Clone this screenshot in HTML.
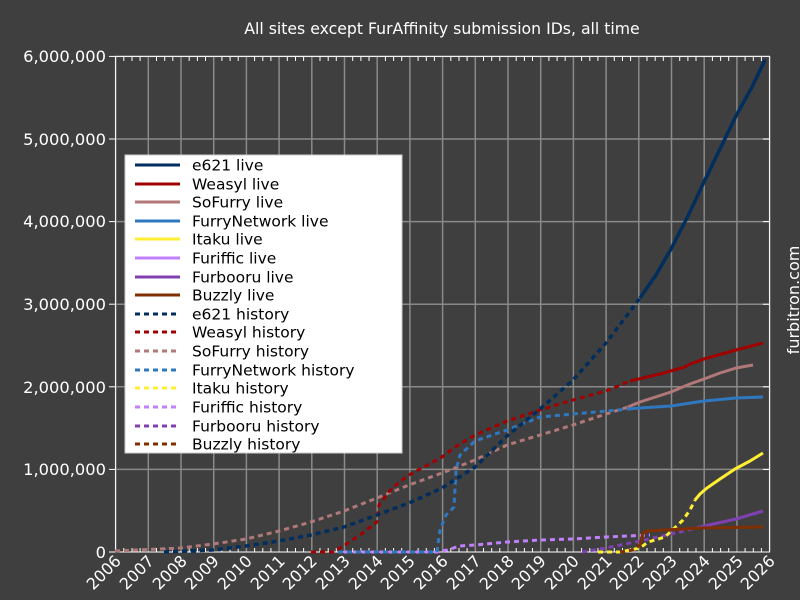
<!DOCTYPE html>
<html><head><meta charset="utf-8"><style>
body{margin:0;background:#3f3f3f}
svg{display:block;font-family:"DejaVu Sans","Liberation Sans",sans-serif}
</style></head><body>
<svg width="800" height="600" viewBox="0 0 800 600">
<rect width="800" height="600" fill="#3f3f3f"/>
<text x="442" y="34" fill="#fff" font-size="15.7" text-anchor="middle">All sites except FurAffinity submission IDs, all time</text>
<text transform="translate(799,300) rotate(-90)" fill="#fff" font-size="16" text-anchor="middle">furbitron.com</text>
<g stroke="#8a8a8a" stroke-width="1.5">
<line x1="115.6" y1="56" x2="115.6" y2="552"/><line x1="148.3" y1="56" x2="148.3" y2="552"/><line x1="181" y1="56" x2="181" y2="552"/><line x1="213.7" y1="56" x2="213.7" y2="552"/><line x1="246.4" y1="56" x2="246.4" y2="552"/><line x1="279.1" y1="56" x2="279.1" y2="552"/><line x1="311.8" y1="56" x2="311.8" y2="552"/><line x1="344.5" y1="56" x2="344.5" y2="552"/><line x1="377.2" y1="56" x2="377.2" y2="552"/><line x1="409.9" y1="56" x2="409.9" y2="552"/><line x1="442.6" y1="56" x2="442.6" y2="552"/><line x1="475.3" y1="56" x2="475.3" y2="552"/><line x1="508" y1="56" x2="508" y2="552"/><line x1="540.7" y1="56" x2="540.7" y2="552"/><line x1="573.4" y1="56" x2="573.4" y2="552"/><line x1="606.1" y1="56" x2="606.1" y2="552"/><line x1="638.8" y1="56" x2="638.8" y2="552"/><line x1="671.5" y1="56" x2="671.5" y2="552"/><line x1="704.2" y1="56" x2="704.2" y2="552"/><line x1="736.9" y1="56" x2="736.9" y2="552"/><line x1="769.6" y1="56" x2="769.6" y2="552"/>
<line x1="115" y1="469.4" x2="770" y2="469.4"/><line x1="115" y1="386.8" x2="770" y2="386.8"/><line x1="115" y1="304.2" x2="770" y2="304.2"/><line x1="115" y1="221.6" x2="770" y2="221.6"/><line x1="115" y1="139" x2="770" y2="139"/><line x1="115" y1="56.4" x2="770" y2="56.4"/>
</g>
<rect x="115.6" y="56.4" width="654" height="495.6" fill="none" stroke="#fff" stroke-width="1"/>
<g id="mt" stroke="#fff" stroke-width="1">
<path d="M123.8 57v4M132 57v4M140.1 57v4M156.5 57v4M164.7 57v4M172.8 57v4M189.2 57v4M197.4 57v4M205.5 57v4M221.9 57v4M230.1 57v4M238.2 57v4M254.6 57v4M262.8 57v4M270.9 57v4M287.3 57v4M295.5 57v4M303.6 57v4M320 57v4M328.2 57v4M336.3 57v4M352.7 57v4M360.9 57v4M369 57v4M385.4 57v4M393.6 57v4M401.7 57v4M418.1 57v4M426.3 57v4M434.4 57v4M450.8 57v4M459 57v4M467.1 57v4M483.5 57v4M491.7 57v4M499.8 57v4M516.2 57v4M524.4 57v4M532.5 57v4M548.9 57v4M557.1 57v4M565.2 57v4M581.6 57v4M589.8 57v4M597.9 57v4M614.3 57v4M622.5 57v4M630.6 57v4M647 57v4M655.2 57v4M663.3 57v4M679.7 57v4M687.9 57v4M696 57v4M712.4 57v4M720.6 57v4M728.7 57v4M745.1 57v4M753.3 57v4M761.4 57v4"/>
</g>
<use href="#mt" transform="translate(0,491)"/>
<g stroke="#fff" stroke-width="1">
<line x1="109" y1="552" x2="115" y2="552"/><line x1="109" y1="469.4" x2="115" y2="469.4"/><line x1="109" y1="386.8" x2="115" y2="386.8"/><line x1="109" y1="304.2" x2="115" y2="304.2"/><line x1="109" y1="221.6" x2="115" y2="221.6"/><line x1="109" y1="139" x2="115" y2="139"/><line x1="109" y1="56.4" x2="115" y2="56.4"/>
<line x1="763" y1="469.4" x2="769" y2="469.4"/><line x1="763" y1="386.8" x2="769" y2="386.8"/><line x1="763" y1="304.2" x2="769" y2="304.2"/><line x1="763" y1="221.6" x2="769" y2="221.6"/><line x1="763" y1="139" x2="769" y2="139"/>
</g>
<g fill="#fff" font-size="16.3" text-anchor="end">
<text x="106" y="558">0</text><text x="106" y="475">1,000,000</text><text x="106" y="393">2,000,000</text><text x="106" y="310">3,000,000</text><text x="106" y="227">4,000,000</text><text x="106" y="145">5,000,000</text><text x="106" y="62">6,000,000</text>
</g>
<g fill="#fff" font-size="16" text-anchor="end">
<text transform="translate(122,562) rotate(-45)">2006</text><text transform="translate(155,562) rotate(-45)">2007</text><text transform="translate(188,562) rotate(-45)">2008</text><text transform="translate(220,562) rotate(-45)">2009</text><text transform="translate(253,562) rotate(-45)">2010</text><text transform="translate(286,562) rotate(-45)">2011</text><text transform="translate(318,562) rotate(-45)">2012</text><text transform="translate(351,562) rotate(-45)">2013</text><text transform="translate(384,562) rotate(-45)">2014</text><text transform="translate(416,562) rotate(-45)">2015</text><text transform="translate(449,562) rotate(-45)">2016</text><text transform="translate(482,562) rotate(-45)">2017</text><text transform="translate(515,562) rotate(-45)">2018</text><text transform="translate(547,562) rotate(-45)">2019</text><text transform="translate(580,562) rotate(-45)">2020</text><text transform="translate(613,562) rotate(-45)">2021</text><text transform="translate(645,562) rotate(-45)">2022</text><text transform="translate(678,562) rotate(-45)">2023</text><text transform="translate(711,562) rotate(-45)">2024</text><text transform="translate(744,562) rotate(-45)">2025</text><text transform="translate(776,562) rotate(-45)">2026</text>
</g>
<g fill="none" stroke-width="3" stroke-linejoin="round">
<g stroke-dasharray="5,4">
<polyline stroke="#b07878" points="115,551 181,548 213,544 246,539 279,531 311,522 344,511 377,498 409,485 442,473 475,460 507,445 540,435 573,425 606,414 628,407"/>
<polyline stroke="#c080ff" points="344,552 437,552 447,550 460,546 475,545 507,542 540,540 573,539 606,537 650,535"/>
<polyline stroke="#2f78c0" points="311,552 437,552 440,530 446,515 454,507 456,470 460,455 475,441 507,430 540,417 573,414 606,411 628,409"/>
<polyline stroke="#a00000" points="311,552 333,552 345,545 360,535 377,522 379,505 392,488 409,475 422,468 442,457 455,447 475,435 507,421 540,410 573,400 606,391 630,381"/>
<polyline stroke="#012e5c" stroke-width="3.5" points="164,552 213,550 246,546 279,541 311,535 344,527 377,515 409,503 442,488 475,467 507,436 540,409 573,380 606,343 628,314 640,298"/>
<polyline stroke="#8040b0" points="582,552 606,548 640,541 680,532 700,527"/>
<polyline stroke="#ffee33" points="598,552 620,552 640,548 648,542 665,537 683,520 690,510 695,500"/>
<polyline stroke="#803000" points="620,552 633,550 640,545"/>
</g>
<polyline stroke="#b07878" points="628,407 640,402 671,392 685,386 690,384 704,379 720,373 736,368 753,365"/>
<polyline stroke="#2f78c0" points="628,409 640,408 671,406 704,401 736,398 763,397"/>
<polyline stroke="#a00000" points="630,381 660,374 685,367 690,364 704,359 736,350 763,343"/>
<polyline stroke="#012e5c" stroke-width="3.5" points="640,298 656,275 671,249 688,216 704,182 720,149 737,114 752,87 765,60"/>
<polyline stroke="#ffee33" points="695,500 700,494 707,488 720,479 735,469 750,461 763,453"/>
<polyline stroke="#8040b0" points="700,527 736,519 763,511"/>
<polyline stroke="#803000" points="640,545 643,533 647,531 700,528 763,527"/>
</g>
<rect x="125" y="155" width="277" height="298" fill="#fff" stroke="#ccc"/>
<g stroke-width="3">
<line x1="135" y1="165" x2="180" y2="165" stroke="#012e5c"/>
<line x1="135" y1="184" x2="180" y2="184" stroke="#a00000"/>
<line x1="135" y1="202" x2="180" y2="202" stroke="#b07878"/>
<line x1="135" y1="221" x2="180" y2="221" stroke="#2f78c0"/>
<line x1="135" y1="239" x2="180" y2="239" stroke="#ffee33"/>
<line x1="135" y1="258" x2="180" y2="258" stroke="#c080ff"/>
<line x1="135" y1="277" x2="180" y2="277" stroke="#8040b0"/>
<line x1="135" y1="295" x2="180" y2="295" stroke="#803000"/>
<g stroke-dasharray="5,4">
<line x1="135" y1="314" x2="180" y2="314" stroke="#012e5c"/>
<line x1="135" y1="332" x2="180" y2="332" stroke="#a00000"/>
<line x1="135" y1="351" x2="180" y2="351" stroke="#b07878"/>
<line x1="135" y1="370" x2="180" y2="370" stroke="#2f78c0"/>
<line x1="135" y1="388" x2="180" y2="388" stroke="#ffee33"/>
<line x1="135" y1="407" x2="180" y2="407" stroke="#c080ff"/>
<line x1="135" y1="426" x2="180" y2="426" stroke="#8040b0"/>
<line x1="135" y1="444" x2="180" y2="444" stroke="#803000"/>
</g></g>
<g fill="#000" font-size="15.5">
<text x="192" y="170.5">e621 live</text><text x="192" y="189.5">Weasyl live</text><text x="192" y="207.5">SoFurry live</text><text x="192" y="226.5">FurryNetwork live</text><text x="192" y="244.5">Itaku live</text><text x="192" y="263.5">Furiffic live</text><text x="192" y="282.5">Furbooru live</text><text x="192" y="300.5">Buzzly live</text><text x="192" y="319.5">e621 history</text><text x="192" y="337.5">Weasyl history</text><text x="192" y="356.5">SoFurry history</text><text x="192" y="375.5">FurryNetwork history</text><text x="192" y="393.5">Itaku history</text><text x="192" y="412.5">Furiffic history</text><text x="192" y="431.5">Furbooru history</text><text x="192" y="449.5">Buzzly history</text>
</g>
</svg>
</body></html>
